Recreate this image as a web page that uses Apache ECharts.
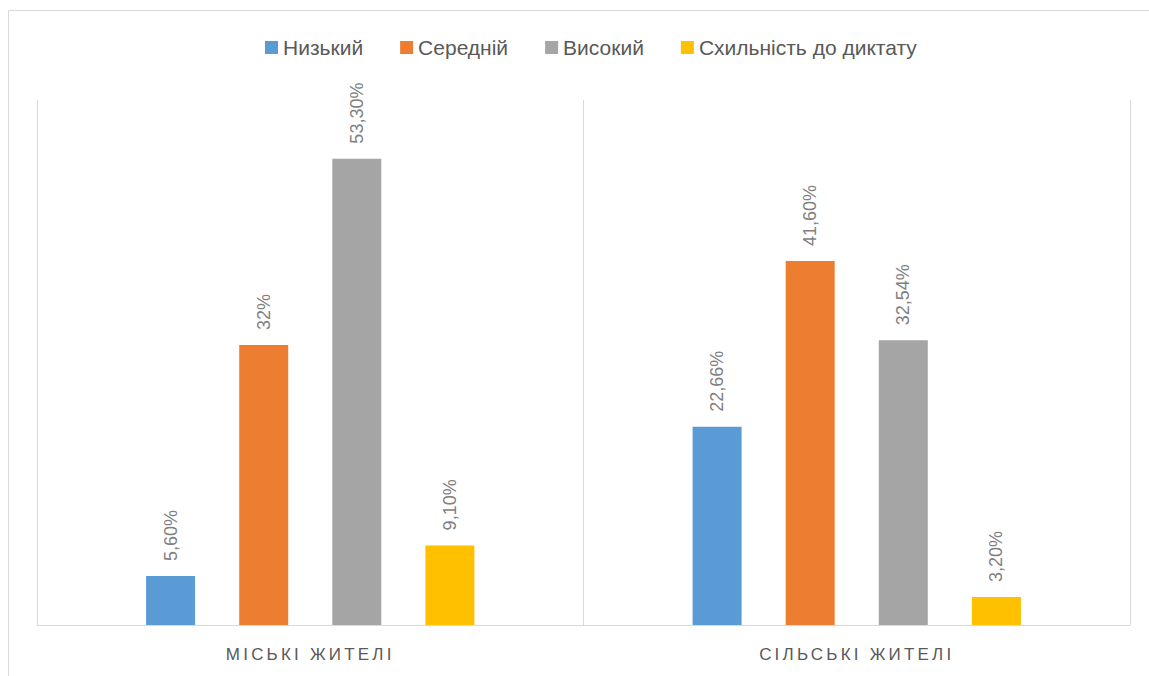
<!DOCTYPE html>
<html>
<head>
<meta charset="utf-8">
<script src="https://cdn.jsdelivr.net/npm/echarts@6/dist/echarts.min.js"></script>
<style>html,body{margin:0;padding:0;background:#fff;}#c{width:1149px;height:676px;}</style>
</head>
<body>
<div id="c"></div>
<script>
const categories = ['МІСЬКІ ЖИТЕЛІ', 'СІЛЬСЬКІ ЖИТЕЛІ'];
const seriesNames = ['Низький', 'Середній', 'Високий', 'Схильність до диктату'];
const lowValues = [5.60, 22.66];
const midValues = [32, 41.60];
const highValues = [53.30, 32.54];
const dictValues = [9.10, 3.20];
const lowLabels = ['5,60%', '22,66%'];
const midLabels = ['32%', '41,60%'];
const highLabels = ['53,30%', '32,54%'];
const dictLabels = ['9,10%', '3,20%'];
const colors = ['#5B9BD5', '#ED7D31', '#A5A5A5', '#FFC000'];

const values = [lowValues, midValues, highValues, dictValues];
const labels = [lowLabels, midLabels, highLabels, dictLabels];

const chart = echarts.init(document.getElementById('c'), null, {renderer: 'svg'});
chart.setOption({
  animation: false,
  backgroundColor: '#fff',
  textStyle: {fontFamily: 'Liberation Sans'},
  graphic: [{type: 'rect', shape: {x: 8.5, y: 10.5, width: 1160, height: 700}, style: {fill: 'none', stroke: '#d9d9d9', lineWidth: 1}, silent: true}],
  legend: {
    top: 32, left: 260, itemWidth: 13, itemHeight: 13, itemGap: 37,
    icon: 'rect',
    textStyle: {fontSize: 21, color: '#595959', fontFamily: 'Liberation Sans'},
    data: seriesNames
  },
  grid: {left: 37, right: 19, top: 100, bottom: 51},
  xAxis: {
    type: 'category', data: categories,
    axisLine: {lineStyle: {color: '#d9d9d9', width: 1}},
    axisTick: {show: false},
    splitLine: {show: true, lineStyle: {color: '#d9d9d9', width: 1}},
    axisLabel: {color: '#595959', fontSize: 17, margin: 21, fontFamily: 'Liberation Sans'}
  },
  yAxis: {type: 'value', min: 0, max: 60, show: false, splitLine: {show: false}},
  series: seriesNames.map((n, i) => ({
    name: n, type: 'bar', data: values[i], barWidth: 49, barGap: '90%',
    itemStyle: {color: colors[i]},
    label: {
      show: true, position: 'top', rotate: 90, distance: 15,
      align: 'left', verticalAlign: 'middle',
      color: '#7f7f7f', fontSize: 18, fontFamily: 'Liberation Sans',
      formatter: p => labels[i][p.dataIndex]
    }
  }))
});
document.querySelectorAll('#c text').forEach(t => {
  if (categories.indexOf(t.textContent.trim()) >= 0) {
    t.style.letterSpacing = '3.2px';
  }
});
</script>
</body>
</html>
